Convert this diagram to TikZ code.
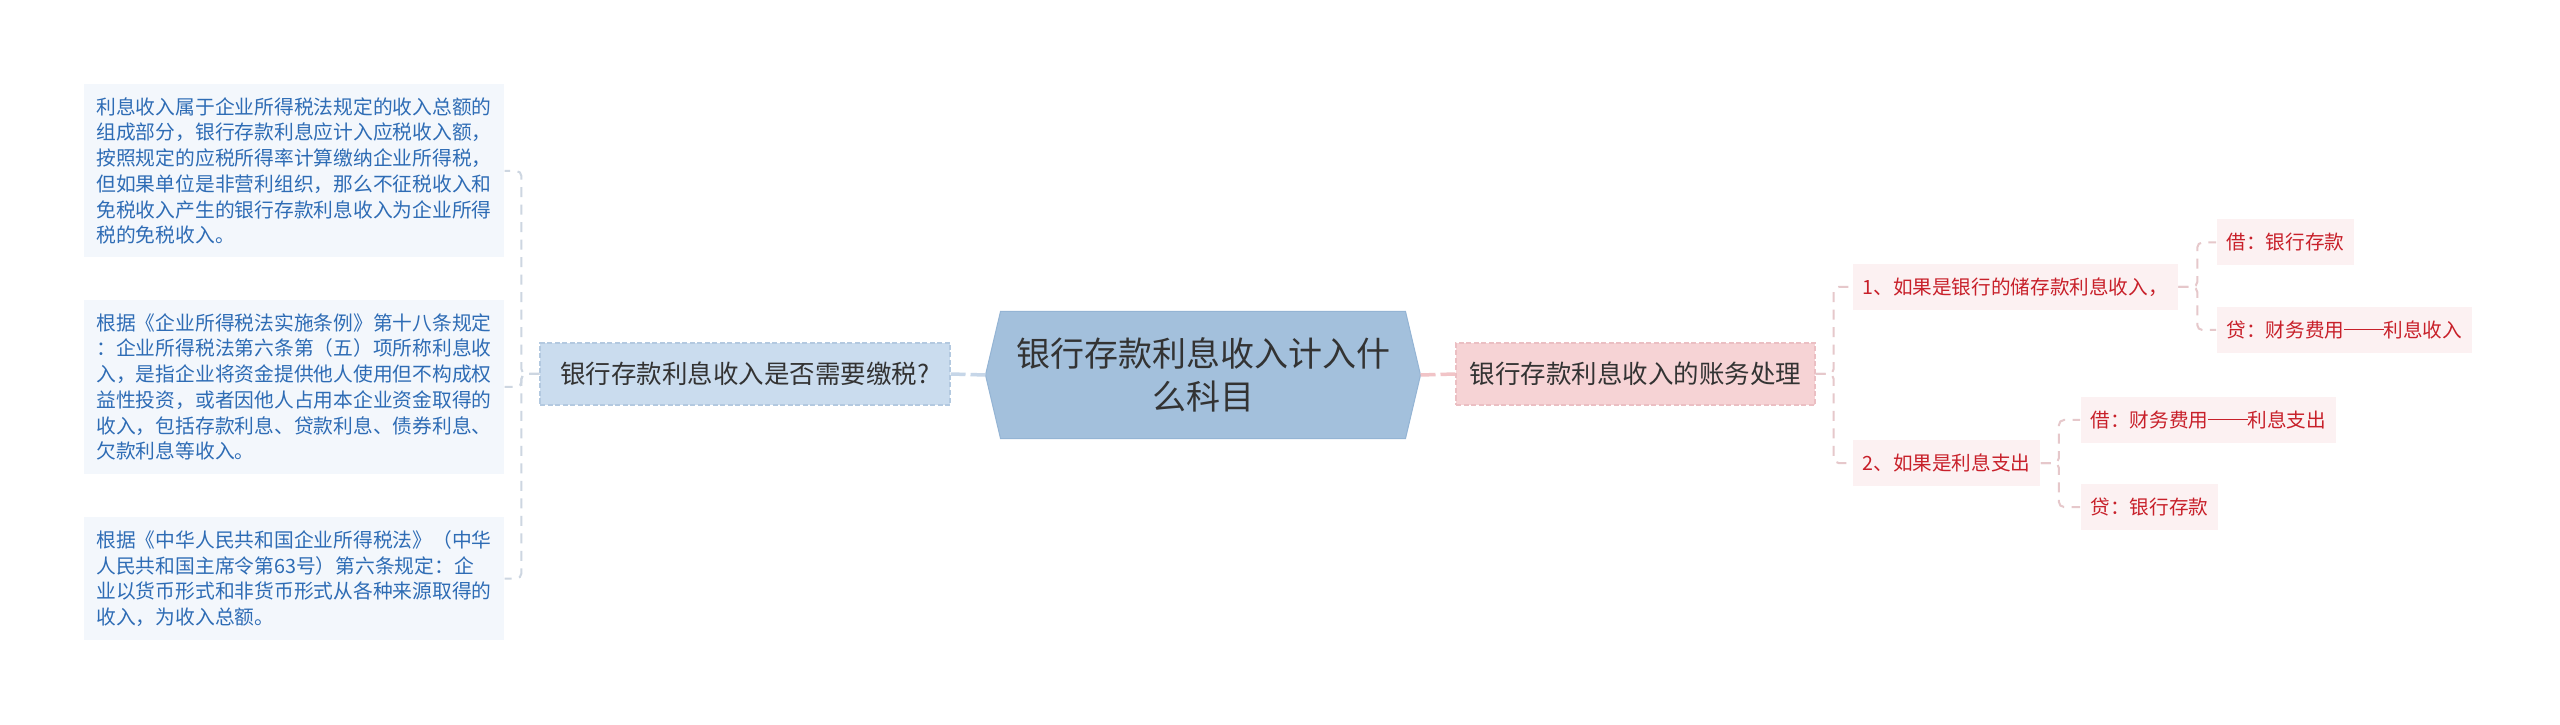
\documentclass[tikz,border=0pt]{standalone}
\usepackage{fontspec}
\setmainfont{Noto Sans CJK SC}
\usetikzlibrary{backgrounds}
\definecolor{rootfill}{HTML}{A3C0DC}
\definecolor{rootedge}{HTML}{94B4D4}
\definecolor{lmainfill}{HTML}{CADCEE}
\definecolor{lmainedge}{HTML}{B3C9E0}
\definecolor{lleaffill}{HTML}{F3F7FC}
\definecolor{lleaftext}{HTML}{2E6CB5}
\definecolor{lconncol}{HTML}{CDD6E1}
\definecolor{lrootconn}{HTML}{C6D6E8}
\definecolor{rmainfill}{HTML}{F6D3D5}
\definecolor{rmainedge}{HTML}{EBBFC3}
\definecolor{rleaffill}{HTML}{FCF1F2}
\definecolor{rleaftext}{HTML}{C8202A}
\definecolor{rconncol}{HTML}{E6C8CB}
\definecolor{rrootconn}{HTML}{F1C4C7}
\definecolor{maintext}{HTML}{333333}
\newcommand{\longdash}{\rule[0.36em]{2em}{0.07em}}
\begin{document}
\begin{tikzpicture}[x=0.4pt,y=-0.4pt,
  rootnode/.style={minimum width=173.6pt, minimum height=50.4pt, inner sep=0pt,
    align=center, text=maintext, font=\fontsize{13.6pt}{17pt}\selectfont},
  mainbox/.style={minimum height=24.8pt, inner sep=0pt, text=maintext,
    font=\fontsize{10.2pt}{12pt}\selectfont, dash pattern=on 2pt off 1pt, line width=0.5pt},
  lmain/.style={mainbox, fill=lmainfill, draw=lmainedge, minimum width=164pt},
  rmain/.style={mainbox, fill=rmainfill, draw=rmainedge, minimum width=143.6pt},
  lleaf/.style={fill=lleaffill, text=lleaftext, inner sep=0pt, align=left,
    minimum width=168pt, font=\fontsize{7.9pt}{10.3pt}\selectfont},
  rleaf/.style={anchor=west, fill=rleaffill, text=rleaftext, inner xsep=4pt, inner ysep=0pt,
    minimum height=18.4pt, font=\fontsize{7.85pt}{9.5pt}\selectfont},
  lconn/.style={draw=lconncol, line width=0.8pt, dash pattern=on 4pt off 3pt, rounded corners=2pt},
  rconn/.style={draw=rconncol, line width=0.8pt, dash pattern=on 4pt off 3pt, rounded corners=2pt},
  rootlink/.style={draw=#1, line width=1.4pt, dash pattern=on 6pt off 2pt}
]
\useasboundingbox (0,0) rectangle (2560,725);

% root
\node[rootnode] (root) at (1203,375) {银行存款利息收入计入什\\么科目};
\begin{scope}[on background layer]
\fill[white] (0,0) rectangle (2560,725);
\filldraw[fill=rootfill, draw=rootedge, line width=0.4pt]
  (root.west) -- ([xshift=6pt]root.north west) -- ([xshift=-6pt]root.north east)
  -- (root.east) -- ([xshift=-6pt]root.south east) -- ([xshift=6pt]root.south west) -- cycle;
\end{scope}

% main branches
\node[lmain] (lq) at (745,374) {银行存款利息收入是否需要缴税?};
\node[rmain] (rq) at (1635.5,374) {银行存款利息收入的账务处理};

% left leaves
\node[lleaf, minimum height=69.2pt] (l1) at (294,171) {利息收入属于企业所得税法规定的收入总额的\\组成部分，银行存款利息应计入应税收入额，\\按照规定的应税所得率计算缴纳企业所得税，\\但如果单位是非营利组织，那么不征税收入和\\免税收入产生的银行存款利息收入为企业所得\\税的免税收入。};
\node[lleaf, minimum height=69.6pt] (l2) at (294,387) {根据《企业所得税法实施条例》第十八条规定\\：企业所得税法第六条第（五）项所称利息收\\入，是指企业将资金提供他人使用但不构成权\\益性投资，或者因他人占用本企业资金取得的\\收入，包括存款利息、贷款利息、债券利息、\\欠款利息等收入。};
\node[lleaf, minimum height=49.2pt] (l3) at (294,578.5) {根据《中华人民共和国企业所得税法》（中华\\人民共和国主席令第63号）第六条规定：企\\业以货币形式和非货币形式从各种来源取得的\\收入，为收入总额。};

% right leaves
\node[rleaf] (r1) at (1852,287) {1、如果是银行的储存款利息收入，};
\node[rleaf] (r11) at (2216,242.5) {借：银行存款};
\node[rleaf] (r12) at (2216,330) {贷：财务费用\longdash 利息收入};
\node[rleaf] (r2) at (1852,463) {2、如果是利息支出};
\node[rleaf] (r21) at (2080,420) {借：财务费用\longdash 利息支出};
\node[rleaf] (r22) at (2080,507) {贷：银行存款};

% connectors
\draw[rootlink=lrootconn] (root.west) -- (lq.east);
\draw[rootlink=rrootconn] (root.east) -- (rq.west);

\draw[lconn] (lq.west) -- ++(-18,0) |- (l1.east);
\draw[lconn] (lq.west) -- ++(-18,0) |- (l2.east);
\draw[lconn] (lq.west) -- ++(-18,0) |- (l3.east);

\draw[rconn] (rq.east) -- ++(18,0) |- (r1.west);
\draw[rconn] (rq.east) -- ++(18,0) |- (r2.west);
\draw[rconn] (r1.east) -- ++(19,0) |- (r11.west);
\draw[rconn] (r1.east) -- ++(19,0) |- (r12.west);
\draw[rconn] (r2.east) -- ++(18,0) |- (r21.west);
\draw[rconn] (r2.east) -- ++(18,0) |- (r22.west);
\end{tikzpicture}
\end{document}
